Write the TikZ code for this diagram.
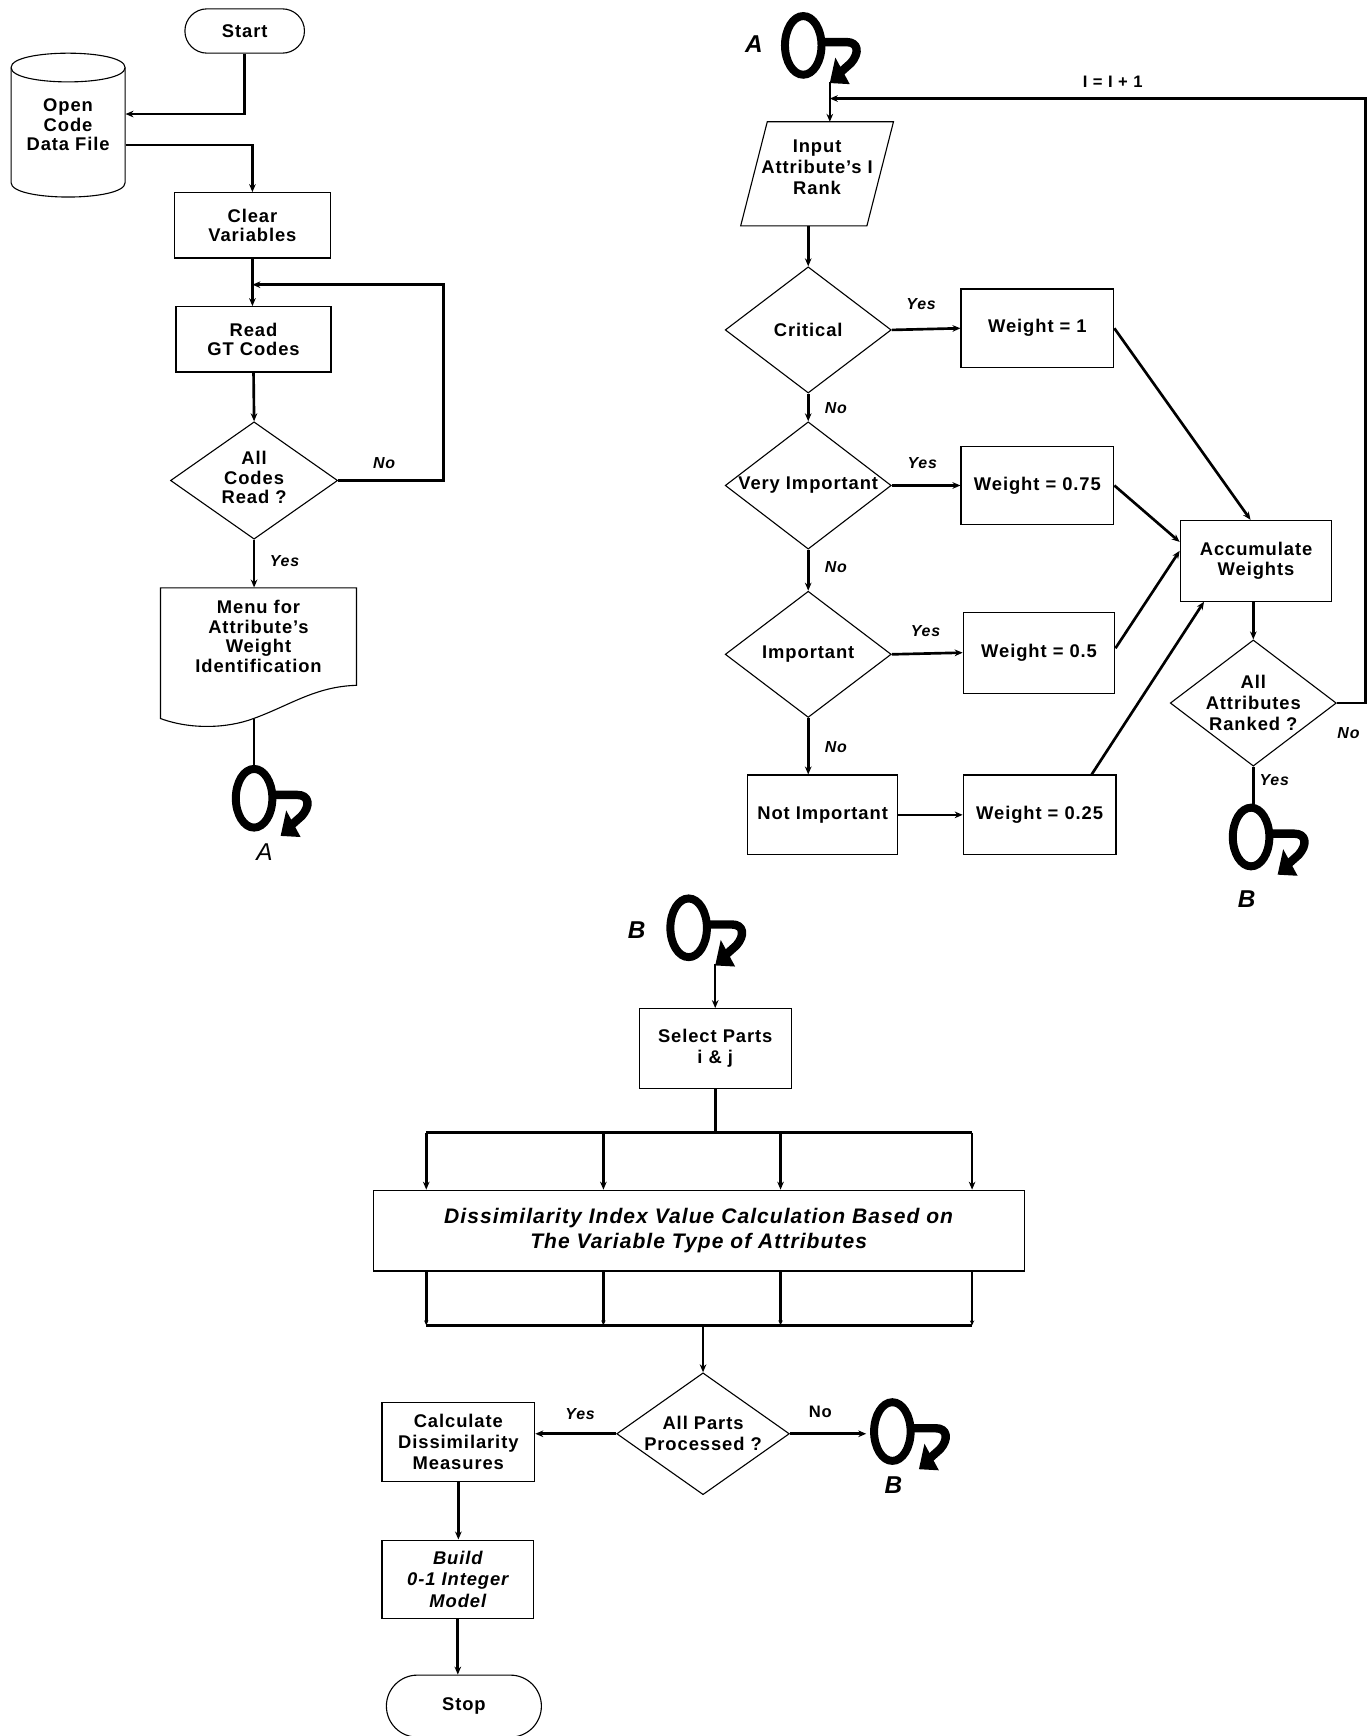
\documentclass[tikz,border=0pt]{standalone}
\usepackage{fontspec}
\setmainfont{Liberation Sans}[LetterSpace=5]
\usetikzlibrary{shapes.geometric,shapes.misc,arrows.meta,calc}
\newcommand{\txtf}{\bfseries\fontsize{8.3}{8.8}\selectfont}
\newcommand{\txtg}{\bfseries\fontsize{8.3}{9.6}\selectfont}
\newcommand{\ynf}{\bfseries\itshape\fontsize{7.2}{8}\selectfont}
\newcommand{\conlab}{\bfseries\itshape\fontsize{11}{12}\selectfont}
\newcommand{\offpage}[3]{%
  \node[connring] (#1) at (#2,#3) {};
  \draw[connhook] ($(#1.center)+(16,-3)$) -- ($(#1.center)+(39,-3)$)
     .. controls ($(#1.center)+(50,-3)$) and ($(#1.center)+(51,7)$) .. ($(#1.center)+(43,16)$)
     -- ($(#1.center)+(34,24)$);
  \fill ($(#1.center)+(24,34)$) -- ($(#1.center)+(29,11)$) -- ($(#1.center)+(42,35)$) -- cycle;
  \coordinate (#1tip) at ($(#1.center)+(24,33)$);
}
\begin{document}
\begin{tikzpicture}[x=0.5pt,y=-0.5pt,
  box/.style={draw, line width=0.5pt, rectangle, inner sep=1pt, align=center, font=\txtf},
  dia/.style={draw, line width=0.5pt, diamond, aspect=1.35, inner sep=0pt, align=center, font=\txtf},
  term/.style={draw, line width=0.5pt, rounded rectangle, inner sep=1pt, font=\txtf},
  txtnode/.style={inner sep=0pt, align=center, font=\txtf},
  shapeline/.style={draw, line width=0.5pt},
  conn/.style={line width=1.2pt},
  arr/.style={conn, -{Stealth[length=3.6pt,width=3pt]}},
  smallarr/.style={conn, -{Stealth[length=2.2pt,width=2pt]}},
  connring/.style={ellipse, draw, line width=3.6pt, minimum width=16.5pt, minimum height=26.5pt, inner sep=0pt},
  connhook/.style={line width=3.8pt, line join=round},
  ynlab/.style={font=\ynf, inner sep=0pt},
  conlabel/.style={font=\conlab, inner sep=0pt},
]
\fill[white] (0,0) rectangle (1239,1568);
\useasboundingbox (0,0) rectangle (1239,1568);

% ---------------- left column ----------------
\node[term, minimum width=56pt, minimum height=20pt] (start) at (221,28) {Start};
\node[txtnode, minimum width=51.5pt, minimum height=65pt] (file) at (61.5,113) {Open\\Code\\Data File};
\draw[shapeline] (10,61) .. controls (10,43.7) and (113,43.7) .. (113,61)
                 .. controls (113,78.3) and (10,78.3) .. (10,61);
\draw[shapeline] (10,61) -- (10,165) .. controls (10,182.3) and (113,182.3) .. (113,165) -- (113,61);
\node[box, minimum width=70.5pt, minimum height=29.5pt] (clear) at (228,203.5) {Clear\\Variables};
\node[box, minimum width=70pt, minimum height=29.5pt] (read) at (229,306.5) {Read\\GT Codes};
\node[dia, minimum width=75.5pt, minimum height=53pt] (codes) at (229.5,434) {\raisebox{2.5pt}{\begin{tabular}{@{}c@{}}All\\Codes\\Read ?\end{tabular}}};
\node[txtnode, minimum width=88.5pt, minimum height=44pt] (menu) at (233.5,575) {Menu for\\Attribute's\\Weight\\Identification};
\draw[shapeline] (145,531) -- (322,531) -- (322,619)
   .. controls (285,620) and (262,637) .. (229,649)
   .. controls (205,658) and (172,659) .. (145,649) -- cycle;
\coordinate (menuout) at (229.5,649);
\offpage{conA1}{229.5}{721}
\node[inner sep=0pt, font=\itshape\fontsize{11}{12}\selectfont] (labA1) at (239,770) {A};

\draw[arr] (start.south) |- ($(file.east)+(0,-10)$);
\draw[arr] ($(file.east)+(0,18)$) -| (clear.north);
\draw[arr] (clear.south) -- (clear.south |- read.north);
\coordinate (j1) at ($(clear.south)!0.55!(clear.south |- read.north)$);
\draw[arr] (read.south) -- (codes.north);
\draw[arr] (codes.east) -- ++(95,0) |- (j1);
\node[ynlab] (noA) at (347,418) {No};
\draw[arr] (codes.south) -- (codes.south |- menu.north);
\node[ynlab] (yesA) at (257,507) {Yes};
\draw[conn] (menuout) -- (conA1.north);

% ---------------- top right ----------------
\offpage{conA2}{725.5}{41}
\node[conlabel] (labA2) at (681,40) {A};
\node[txtnode, font=\txtg, minimum width=70pt, minimum height=47pt] (input) at (738,151) {Input\\Attribute's I\\Rank};
\draw[shapeline] (693,110) -- (807,110) -- (783,204) -- (669,204) -- cycle;
\coordinate (inTop) at (749.5,110);
\coordinate (j2) at ($(conA2tip)+(0,15)$);
\draw[arr, line width=0.8pt] (conA2tip) -- (inTop);
\node[inner sep=0pt, font=\bfseries\fontsize{7.5}{8}\selectfont] (incr) at (1005,74) {I = I + 1};

\node[dia, minimum width=75pt, minimum height=57pt] (crit) at (730,298) {Critical};
\node[dia, minimum width=75pt, minimum height=57.5pt] (vimp) at (730,438.5) {Very Important};
\node[dia, minimum width=75pt, minimum height=57pt] (imp) at (730,591) {Important};
\node[box, minimum width=68pt, minimum height=36pt] (notimp) at (743,736) {Not Important};
\node[box, minimum width=69pt, minimum height=35.5pt] (w1) at (937,296.5) {Weight = 1};
\node[box, minimum width=69pt, minimum height=35.5pt] (w75) at (937,438.5) {Weight = 0.75};
\node[box, minimum width=68.5pt, minimum height=36.5pt] (w5) at (938.5,589.5) {Weight = 0.5};
\node[box, minimum width=69pt, minimum height=36pt] (w25) at (939,736) {Weight = 0.25};
\node[box, minimum width=68.5pt, minimum height=36.5pt] (accum) at (1134.5,506.5) {Accumulate\\Weights};
\node[dia, font=\txtg, inner sep=-2.5pt, minimum width=75pt, minimum height=57pt] (allattr) at (1132,635) {All\\Attributes\\Ranked ?};
\offpage{conB1}{1130}{756}
\node[conlabel] (labB1) at (1126,812) {B};

\coordinate (inBot) at (crit.north |- 0,204);
\draw[arr] (inBot) -- (crit.north);
\draw[arr] (crit.east) -- (w1.west);
\node[ynlab] (yes1) at (832,275) {Yes};
\draw[arr] (crit.south) -- (vimp.north);
\node[ynlab] (no1) at (755,369) {No};
\draw[arr] (vimp.east) -- (w75.west);
\node[ynlab] (yes2) at (833,418) {Yes};
\draw[arr] (vimp.south) -- (imp.north);
\node[ynlab] (no2) at (755,512) {No};
\draw[arr] (imp.east) -- (w5.west);
\node[ynlab] (yes3) at (836,570) {Yes};
\draw[arr] (imp.south) -- (imp.south |- notimp.north);
\node[ynlab] (no3) at (755,675) {No};
\draw[arr] (notimp.east) -- (w25.west);

\draw[arr] (w1.east) -- ($(accum.north)+(-5,0)$);
\draw[arr] (w75.east) -- ($(accum.west)+(0,-17)$);
\draw[arr] ($(w5.east)+(0,-4)$) -- ($(accum.west)+(0,-9)$);
\draw[arr] ($(w25.north)+(47,0)$) -- ($(accum.south)+(-47,0)$);
\draw[arr] (allattr.north |- accum.south) -- (allattr.north);
\draw[arr] (allattr.east) -- ++(26,0) |- (j2);
\node[ynlab] (no4) at (1218,662) {No};
\draw[conn] (allattr.south) -- (allattr.south |- conB1.north);
\node[ynlab] (yes4) at (1151,705) {Yes};

% ---------------- bottom ----------------
\offpage{conB2}{622}{838}
\node[conlabel] (labB2) at (575,840) {B};
\node[box, minimum width=68.5pt, minimum height=36pt, font=\txtg] (select) at (646,947) {Select Parts\\i \& j};
\draw[arr, line width=0.8pt] (conB2tip) -- (conB2tip |- select.north);
\node[box, minimum width=294pt, minimum height=36.5pt, font=\bfseries\itshape\fontsize{9.5}{11}\selectfont] (calc) at (631,1111.5)
  {Dissimilarity Index Value Calculation Based on\\The Variable Type of Attributes};
\foreach \i/\xx in {1/385,2/545,3/705,4/878}{
  \coordinate (t\i) at (\xx,1023);
  \coordinate (b\i) at (\xx,1197);
  \draw[arr] (t\i) -- (t\i |- calc.north);
  \draw[smallarr] (b\i |- calc.south) -- (b\i);
}
\draw[conn] (select.south) -- (select.south |- t1);
\draw[conn] (t1) -- (t4);
\draw[conn] (b1) -- (b4);
\node[dia, font=\txtg, minimum width=78pt, minimum height=52pt] (parts) at (635,1295) {All Parts\\Processed ?};
\draw[arr] (parts.north |- b1) -- (parts.north);
\offpage{conB3}{806}{1293}
\node[conlabel] (labB3) at (807,1341) {B};
\node[box, font=\txtg, minimum width=69pt, minimum height=35.5pt] (calcd) at (414,1302.5) {Calculate\\Dissimilarity\\Measures};
\node[box, font=\bfseries\itshape\fontsize{8.3}{9.6}\selectfont, minimum width=68.5pt, minimum height=35.5pt] (build) at (413.5,1426.5) {Build\\0-1 Integer\\Model};
\node[term, minimum width=72pt, minimum height=28pt] (stop) at (419,1541) {Stop};
\draw[arr] (parts.west) -- (parts.west -| calcd.east);
\node[ynlab] (yes5) at (524,1277) {Yes};
\draw[arr, shorten >=1.75pt] (parts.east) -- (parts.east -| conB3.west);
\node[inner sep=0pt, font=\bfseries\fontsize{7.5}{8}\selectfont] (no5) at (741,1275) {No};
\draw[arr] (calcd.south) -- (calcd.south |- build.north);
\draw[arr] (build.south) -- (build.south |- stop.north);
\end{tikzpicture}
\end{document}
